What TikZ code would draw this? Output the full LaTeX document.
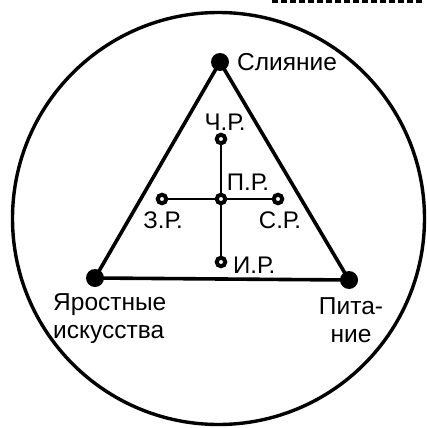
\documentclass[tikz,border=0pt]{standalone}
\usepackage{fontspec}
\setmainfont{Liberation Sans}
\begin{document}
\begin{tikzpicture}[x=1pt,y=-1pt,
  bigdot/.style={circle,fill=black,inner sep=0pt,minimum size=18pt},
  ring/.style={circle,draw=black,line width=4pt,fill=white,inner sep=0pt,minimum size=8.5pt},
  edge/.style={line width=3.6pt},
  thin/.style={line width=1.8pt},
  lbl/.style={font=\fontsize{24.5}{28}\selectfont,inner sep=0pt},
  slbl/.style={font=\fontsize{24}{28}\selectfont,inner sep=0pt}]
\useasboundingbox (0,0) rectangle (427,428);
\draw[line width=3pt,dash pattern=on 6pt off 3pt] (272,2) -- (422,2);
\node[circle,draw,line width=3.4pt,minimum size=412pt,inner sep=0pt] (outer) at (218.5,218.5) {};
\node[bigdot] (top) at (220,62) {};
\node[bigdot] (bl) at (95,278) {};
\node[bigdot] (br) at (349,280) {};
\draw[edge] (top.center) -- (bl.center) -- (br.center) -- cycle;
\coordinate (c) at (221,199);
\node[ring] (n) at (221,139) {};
\node[ring] (s) at (221,262) {};
\node[ring] (w) at (162,199) {};
\node[ring] (e) at (278,199) {};
\draw[thin] (n) -- (c) -- (s);
\draw[thin] (w) -- (c) -- (e);
\node[ring] (p) at (c) {};
\node[lbl,anchor=west] (l1) at (237,62) {Слияние};
\node[lbl,anchor=west,align=left] (l2) at (53,319) {Яростные\\искусства};
\node[lbl,align=center] (l3) at (351,320) {Пита-\\ние};
\node[slbl] (t1) at (225,122) {Ч.Р.};
\node[slbl] (t2) at (248,182) {П.Р.};
\node[slbl] (t3) at (163,220) {З.Р.};
\node[slbl] (t4) at (280,220) {С.Р.};
\node[slbl,anchor=west] (t5) at (233,265) {И.Р.};
\end{tikzpicture}
\end{document}
